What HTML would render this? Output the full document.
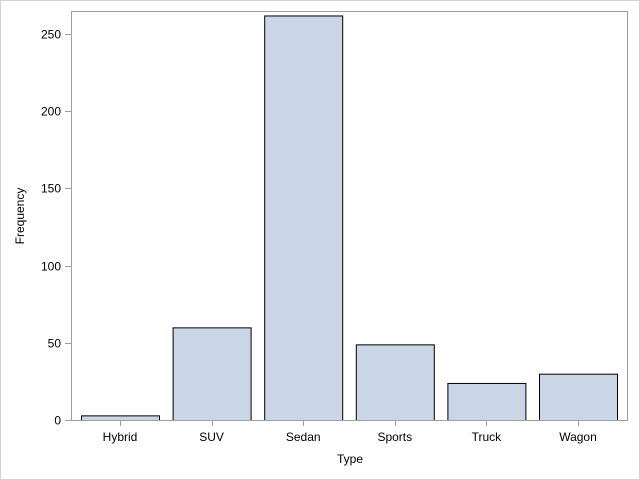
<!DOCTYPE html>
<html><head><meta charset="utf-8"><style>
body{margin:0;background:#fff}
svg{display:block;font-family:"Liberation Sans",sans-serif}
</style></head><body>
<svg id="chart" width="640" height="480">
<rect x="0.5" y="0.5" width="639" height="479" fill="#fff" stroke="#d0d0d0"/>
<g id="bars"></g>
<rect x="71.5" y="11.5" width="556" height="409" fill="none" stroke="#a0a0a0"/>
<g id="yaxis"></g>
<g id="xaxis"></g>
<text x="350" y="463" font-size="12" text-anchor="middle" fill="#000">Type</text>
<text transform="translate(24,216) rotate(-90)" font-size="12" text-anchor="middle" fill="#000">Frequency</text>
</svg>
<script>
const categories=["Hybrid","SUV","Sedan","Sports","Truck","Wagon"];
const counts=[3,60,262,49,24,30];
const yTicks=[0,50,100,150,200,250];
const NS="http://www.w3.org/2000/svg";
const y=v=>420-v*386/250;
const x=i=>120+91.6*i;
const bw=78;
function mk(t,a,p){const e=document.createElementNS(NS,t);for(const k in a)e.setAttribute(k,a[k]);p.appendChild(e);return e;}
const bars=document.getElementById('bars'),ya=document.getElementById('yaxis'),xa=document.getElementById('xaxis');
counts.forEach((c,i)=>{
  const r=mk('rect',{x:x(i)-bw/2+0.5,y:y(c)+0.5,width:bw,height:420-y(c),fill:'#cad5e5',stroke:'#000','stroke-width':1},bars);
  
  
  const tk=mk('line',{x1:Math.round(x(i))+0.5,x2:Math.round(x(i))+0.5,y1:420,y2:426,stroke:'#a0a0a0'},xa);
  
  
  const t=mk('text',{x:x(i),y:441,'font-size':12,'text-anchor':'middle',fill:'#000'},xa);
  t.textContent=categories[i];
  
  
});
yTicks.forEach(v=>{
  const yy=Math.round(y(v))+0.5;
  const l=mk('line',{x1:65,x2:71,y1:yy,y2:yy,stroke:'#a0a0a0'},ya);
  
  
  const t=mk('text',{x:61,y:yy+4,'font-size':12,'text-anchor':'end',fill:'#000'},ya);
  t.textContent=v;
  
  
});
</script>
</body></html>
